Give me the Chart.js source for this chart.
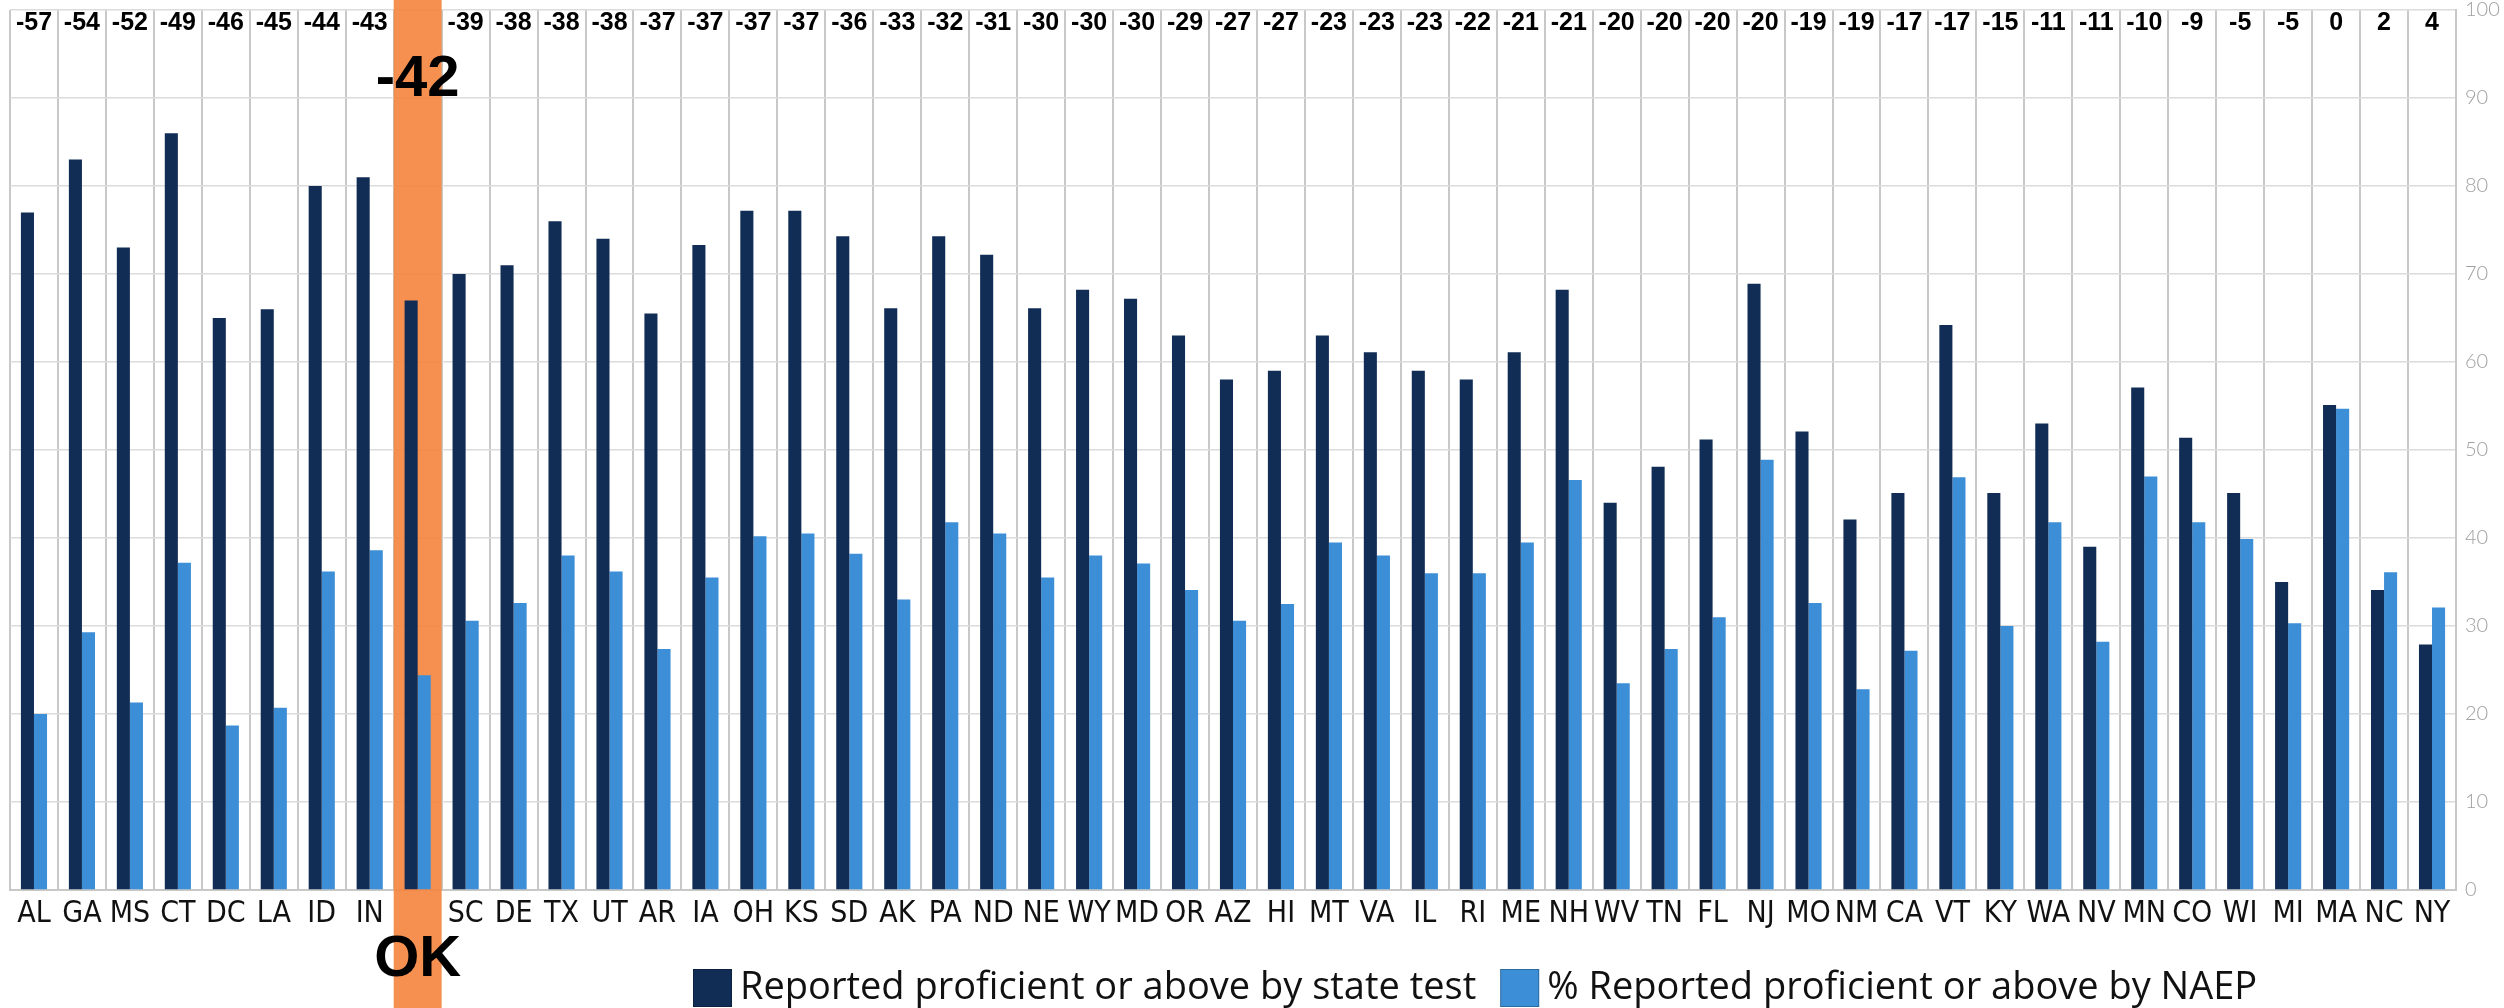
<!DOCTYPE html>
<html>
<head>
<meta charset="utf-8">
<script src="https://cdn.jsdelivr.net/npm/chart.js@4.4.1/dist/chart.umd.min.js"></script>
<style>
  html, body { margin: 0; padding: 0; background: #fff; }
  #wrap { width: 2504px; height: 1008px; }
</style>
</head>
<body>
<div id="wrap"><canvas id="gapChart" width="2504" height="1008"></canvas></div>
<script>
// Data
const states = ['AL','GA','MS','CT','DC','LA','ID','IN','OK','SC','DE','TX','UT','AR','IA','OH','KS','SD','AK','PA',
  'ND','NE','WY','MD','OR','AZ','HI','MT','VA','IL','RI','ME','NH','WV','TN','FL','NJ','MO','NM','CA',
  'VT','KY','WA','NV','MN','CO','WI','MI','MA','NC','NY'];
const stateTest = [77,83,73,86,65,66,80,81,67,70, 71,76,74,65.5,73.3,77.2,77.2,74.3,66.1,74.3,
  72.2,66.1,68.2,67.2,63,58,59,63,61.1,59, 58,61.1,68.2,44,48.1,51.2,68.9,52.1,42.1,45.1,
  64.2,45.1,53,39,57.1,51.4,45.1,35,55.1,34.1, 27.9];
const naep = [20,29.3,21.3,37.2,18.7,20.7,36.2,38.6,24.4,30.6, 32.6,38,36.2,27.4,35.5,40.2,40.5,38.2,33,41.8,
  40.5,35.5,38,37.1,34.1,30.6,32.5,39.5,38,36, 36,39.5,46.6,23.5,27.4,31,48.9,32.6,22.8,27.2,
  46.9,30,41.8,28.2,47,41.8,39.9,30.3,54.7,36.1, 32.1];
const gaps = [-57,-54,-52,-49,-46,-45,-44,-43,-42,-39, -38,-38,-38,-37,-37,-37,-37,-36,-33,-32,
  -31,-30,-30,-30,-29,-27,-27,-23,-23,-23, -22,-21,-21,-20,-20,-20,-20,-19,-19,-17,
  -17,-15,-11,-11,-10,-9,-5,-5,0,2, 4];
const yTicks = [0,10,20,30,40,50,60,70,80,90,100];
const highlight = 'OK';

const darkBlue = '#112d55';
const lightBlue = '#3c8ed6';

// orange band behind the highlighted state
const bandPlugin = {
  id: 'band',
  beforeDatasetsDraw(chart) {
    const x = chart.scales.x;
    const i = states.indexOf(highlight);
    const w = x.getPixelForValue(1) - x.getPixelForValue(0);
    const ctx = chart.ctx;
    ctx.save();
    ctx.fillStyle = 'rgba(245,132,62,0.9)';
    ctx.fillRect(x.getPixelForValue(i) - w / 2, 0, w, chart.height);
    ctx.restore();
  }
};

// gap numbers on top, big OK labels and legend
const textPlugin = {
  id: 'texts',
  afterDraw(chart) {
    const ctx = chart.ctx;
    const x = chart.scales.x;
    const area = chart.chartArea;
    ctx.save();
    ctx.fillStyle = '#000';
    ctx.textAlign = 'center';
    ctx.textBaseline = 'middle';
    gaps.forEach((g, i) => {
      const px = x.getPixelForValue(i);
      if (states[i] === highlight) {
        ctx.font = 'bold 58px "Liberation Sans", Arial, sans-serif';
        ctx.fillText(String(g), px, area.top + 70);
        ctx.fillText(states[i], px, 960);
      } else {
        ctx.font = 'bold 25px "Liberation Sans", Arial, sans-serif';
        ctx.fillText(String(g), px, area.top + 13);
      }
    });

    // legend
    const items = chart.data.datasets.map(d => ({ label: d.label, color: d.backgroundColor }));
    ctx.font = '38px "Open Sans", sans-serif';
    ctx.textAlign = 'left';
    let lx = 693;
    const ly = 988;
    items.forEach(it => {
      ctx.fillStyle = it.color;
      ctx.fillRect(lx, ly - 19, 39, 38);
      ctx.strokeStyle = 'rgba(0,0,0,0.25)';
      ctx.lineWidth = 1;
      ctx.strokeRect(lx + 0.5, ly - 18.5, 38, 37);
      ctx.fillStyle = '#111';
      ctx.fillText(it.label, lx + 47, ly);
      lx += 47 + ctx.measureText(it.label).width + 24;
    });
    ctx.restore();
  }
};

new Chart(document.getElementById('gapChart'), {
  type: 'bar',
  data: {
    labels: states,
    datasets: [{
      label: 'Reported proficient or above by state test',
      data: stateTest,
      backgroundColor: darkBlue,
      categoryPercentage: 0.545,
      barPercentage: 1.0
    }, {
      label: '% Reported proficient or above by NAEP',
      data: naep,
      backgroundColor: lightBlue,
      categoryPercentage: 0.545,
      barPercentage: 1.0
    }]
  },
  options: {
    responsive: false,
    animation: false,
    devicePixelRatio: 1,
    layout: {
      padding: { left: 10, right: 0, top: 10, bottom: 70 }
    },
    plugins: {
      legend: { display: false },
      tooltip: { enabled: false }
    },
    scales: {
      x: {
        offset: true,
        grid: {
          offset: true,
          color: '#c8c8c8',
          lineWidth: 2,
          drawTicks: false
        },
        border: { color: '#c8c8c8', width: 2 },
        ticks: {
          autoSkip: false,
          maxRotation: 0,
          minRotation: 0,
          padding: 6,
          color: '#111',
          font: { family: "'Liberation Sans Narrow', 'DejaVu Sans Condensed', Lato, sans-serif", size: 30 },
          callback: (v, i) => states[i] === highlight ? '' : states[i]
        }
      },
      y: {
        position: 'right',
        min: 0,
        max: 100,
        afterBuildTicks: axis => { axis.ticks = yTicks.map(v => ({ value: v })); },
        afterFit: axis => {
          axis.width = 48;
          axis.paddingTop = 0;
          axis.paddingBottom = 0;
        },
        grid: {
          color: '#dcdcdc',
          lineWidth: 1.5,
          drawTicks: false
        },
        border: { color: '#c8c8c8', width: 2 },
        ticks: {
          padding: 9,
          color: '#a0a0a0',
          font: { family: 'Lato, sans-serif', size: 20, weight: '300' }
        }
      }
    }
  },
  plugins: [bandPlugin, textPlugin]
});
</script>
</body>
</html>
